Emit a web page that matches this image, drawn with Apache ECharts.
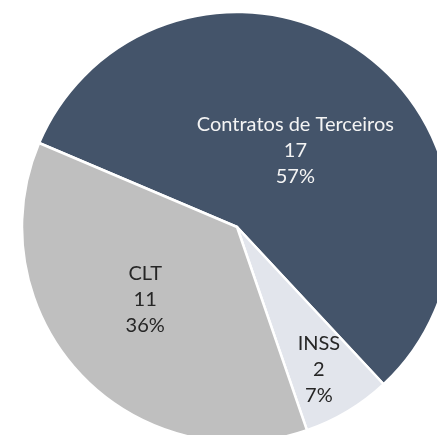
<!DOCTYPE html>
<html>
<head>
<meta charset="utf-8">
<script src="https://cdn.jsdelivr.net/npm/echarts@6/dist/echarts.min.js"></script>
<style>
  html, body { margin: 0; padding: 0; background: #fff; }
  #chart { width: 437px; height: 435px; }
</style>
</head>
<body>
<div id="chart"></div>
<script>
  // dados
  var categorias = ['Contratos de Terceiros', 'INSS', 'CLT'];
  var valores = [17, 2, 11];
  var percentuais = ['57%', '7%', '36%'];
  var cores = ['#44546a', '#e2e5ec', '#bfbfbf'];
  var corTexto = ['#f4f4f4', '#262626', '#262626'];
  // deslocamento dos rótulos em relação à posição padrão "inside"
  var deslocRotulo = [[-5, 14], [25, 48], [-11, -3]];

  var chart = echarts.init(document.getElementById('chart'));

  var dados = [];
  for (var i = 0; i < categorias.length; i++) {
    dados.push({
      name: categorias[i],
      value: valores[i],
      itemStyle: { color: cores[i] },
      label: { color: corTexto[i], offset: deslocRotulo[i] }
    });
  }

  var option = {
    animation: false,
    series: [{
      type: 'pie',
      center: [237, 227],
      radius: 215,
      startAngle: 157,
      clockwise: true,
      avoidLabelOverlap: false,
      itemStyle: {
        borderColor: '#ffffff',
        borderWidth: 2.5
      },
      label: {
        show: true,
        position: 'inside',
        fontFamily: 'Lato',
        fontSize: 20,
        lineHeight: 26,
        align: 'center',
        formatter: function (p) {
          return p.name + '\n' + p.value + '\n' + percentuais[p.dataIndex];
        }
      },
      labelLine: { show: false },
      data: dados
    }]
  };
  chart.setOption(option);
</script>
</body>
</html>
